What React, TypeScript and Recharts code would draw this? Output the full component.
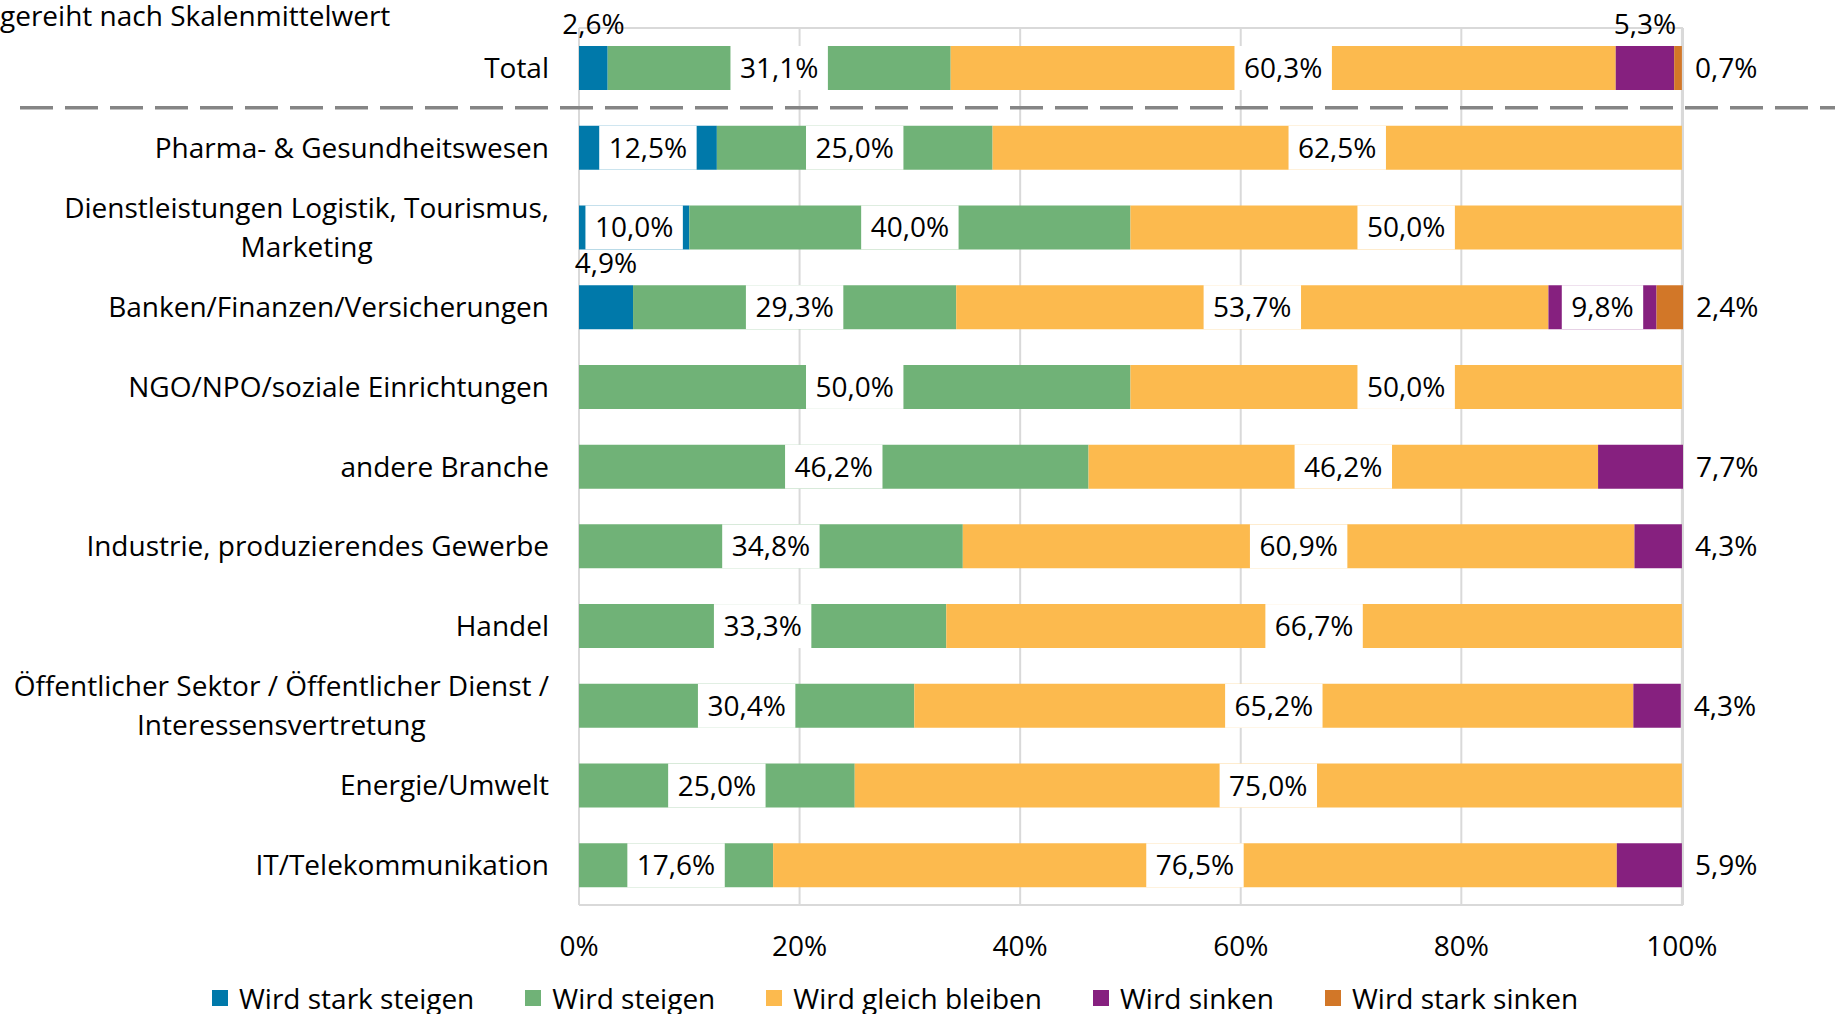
import React from 'react';
import { BarChart, Bar, XAxis, YAxis, CartesianGrid, Legend, LabelList } from 'recharts';

const categories = [
  'Total',
  'Pharma- & Gesundheitswesen',
  'Dienstleistungen Logistik, Tourismus,\nMarketing',
  'Banken/Finanzen/Versicherungen',
  'NGO/NPO/soziale Einrichtungen',
  'andere Branche',
  'Industrie, produzierendes Gewerbe',
  'Handel',
  'Öffentlicher Sektor / Öffentlicher Dienst /\nInteressensvertretung',
  'Energie/Umwelt',
  'IT/Telekommunikation',
];

const starkSteigen = [2.6, 12.5, 10.0, 4.9, 0, 0, 0, 0, 0, 0, 0];
const steigen = [31.1, 25.0, 40.0, 29.3, 50.0, 46.2, 34.8, 33.3, 30.4, 25.0, 17.6];
const gleich = [60.3, 62.5, 50.0, 53.7, 50.0, 46.2, 60.9, 66.7, 65.2, 75.0, 76.5];
const sinken = [5.3, 0, 0, 9.8, 0, 7.7, 4.3, 0, 4.3, 0, 5.9];
const starkSinken = [0.7, 0, 0, 2.4, 0, 0, 0, 0, 0, 0, 0];

const xTicks = [0, 20, 40, 60, 80, 100];

const series = [
  { key: 'starkSteigen', name: 'Wird stark steigen', color: '#0079AA', values: starkSteigen },
  { key: 'steigen', name: 'Wird steigen', color: '#70B277', values: steigen },
  { key: 'gleich', name: 'Wird gleich bleiben', color: '#FCBA4E', values: gleich },
  { key: 'sinken', name: 'Wird sinken', color: '#86207F', values: sinken },
  { key: 'starkSinken', name: 'Wird stark sinken', color: '#D27728', values: starkSinken },
];

const rows = categories.map((name, i) => {
  const row: Record<string, any> = { name };
  series.forEach((s) => (row[s.key] = s.values[i]));
  return row;
});

const W = 1835;
const H = 1014;
const TOP = 28;
const RIGHT = 152;
const AXIS_W = 579;
const XAXIS_H = 60;
const LEGEND_H = 49;
const BAND = (H - TOP - XAXIS_H - LEGEND_H) / categories.length;
const FONT = '"Open Sans", Lato, sans-serif';
const FS = 28;

let ctx: CanvasRenderingContext2D | null = null;
function textWidth(s: string) {
  if (!ctx) {
    ctx = document.createElement('canvas').getContext('2d');
  }
  if (!ctx) return s.length * FS * 0.55;
  ctx.font = `${FS}px "Open Sans"`;
  return ctx.measureText(s).width;
}

const fmt = (v: number) => v.toFixed(1).replace('.', ',') + '%';

function CategoryTick(props: any) {
  const { x, y, payload } = props;
  const lines = String(payload.value).split('\n');
  if (lines.length === 1) {
    return (
      <text x={x} y={y + 10} textAnchor="end" fontFamily={FONT} fontSize={FS} fill="#000">
        {lines[0]}
      </text>
    );
  }
  const wMax = Math.max(...lines.map(textWidth));
  const cx = x - wMax / 2;
  return (
    <text textAnchor="middle" fontFamily={FONT} fontSize={FS} fill="#000">
      <tspan x={cx} y={y - 9.5}>{lines[0]}</tspan>
      <tspan x={cx} y={y + 29.5}>{lines[1]}</tspan>
    </text>
  );
}

function PercentTick(props: any) {
  const { x, y, payload } = props;
  return (
    <text x={x} y={y + 51} textAnchor="middle" fontFamily={FONT} fontSize={FS} fill="#000">
      {payload.value}%
    </text>
  );
}

// small segments get their label outside: to the right if last, else above
function makeLabel(seriesIdx: number) {
  const key = series[seriesIdx].key;
  return (props: any) => {
    const { x, y, width, height, value: name } = props;
    const row = rows.find((r) => r.name === name);
    const value = row ? row[key] : 0;
    if (!value) return null;
    const isLast = series.slice(seriesIdx + 1).every((s) => !row![s.key]);
    const txt = fmt(value);
    const xs = Number(x), ys = Number(y), ws = Number(width), hs = Number(height);
    if (value < 8) {
      if (isLast) {
        return (
          <text x={xs + ws + 13} y={ys + hs / 2 + 10} fontFamily={FONT} fontSize={FS} fill="#000">
            {txt}
          </text>
        );
      }
      return (
        <text x={xs + ws / 2} y={ys - 12} textAnchor="middle" fontFamily={FONT} fontSize={FS} fill="#000">
          {txt}
        </text>
      );
    }
    const tw = textWidth(txt);
    const bw = tw + 19;
    const cx = xs + ws / 2;
    return (
      <g>
        <rect x={cx - bw / 2} y={ys} width={bw} height={hs} fill="#fff" />
        <text x={cx} y={ys + hs / 2 + 10} textAnchor="middle" fontFamily={FONT} fontSize={FS} fill="#000">
          {txt}
        </text>
      </g>
    );
  };
}

function LegendContent() {
  return (
    <div
      style={{
        display: 'flex',
        alignItems: 'center',
        gap: 51,
        paddingLeft: 212,
        paddingTop: 19,
        fontFamily: FONT,
        fontSize: FS,
        lineHeight: '28px',
        color: '#000',
      }}
    >
      {series.map((s) => (
        <div key={s.key} style={{ display: 'flex', alignItems: 'center' }}>
          <span style={{ width: 16, height: 16, background: s.color, marginRight: 11, display: 'inline-block' }} />
          <span>{s.name}</span>
        </div>
      ))}
    </div>
  );
}

export default function App() {
  const sepY = TOP + BAND;
  return (
    <div style={{ position: 'absolute', left: 0, top: 0, width: W, height: H, background: '#fff' }}>
      <BarChart
        width={W}
        height={H}
        data={rows}
        layout="vertical"
        margin={{ top: TOP, right: RIGHT, bottom: 0, left: 0 }}
        barSize={44}
      >
        <CartesianGrid
          stroke="#D9D9D9"
          strokeWidth={2}
          horizontalCoordinatesGenerator={({ offset }: any) => [offset.top, offset.top + offset.height]}
        />
        <XAxis
          type="number"
          domain={[0, 100]}
          ticks={xTicks}
          axisLine={false}
          tickLine={false}
          tickSize={0}
          tickMargin={0}
          height={XAXIS_H}
          tick={<PercentTick />}
          interval={0}
        />
        <YAxis
          type="category"
          dataKey="name"
          width={AXIS_W}
          axisLine={false}
          tickLine={false}
          tickSize={0}
          tickMargin={30}
          tick={<CategoryTick />}
          interval={0}
        />
        {series.map((s, i) => (
          <Bar
            key={s.key}
            dataKey={s.key}
            name={s.name}
            stackId="a"
            fill={s.color}
            isAnimationActive={false}
          >
            <LabelList dataKey={(r: any) => r.name} content={makeLabel(i)} />
          </Bar>
        ))}
        <Legend
          verticalAlign="bottom"
          height={LEGEND_H}
          content={<LegendContent />}
          wrapperStyle={{ left: 0, width: W, height: LEGEND_H }}
        />
      </BarChart>
      <svg
        width={W}
        height={H}
        style={{ position: 'absolute', left: 0, top: 0, pointerEvents: 'none' }}
      >
        <text x={0} y={26} fontFamily={FONT} fontSize={FS} fill="#000">
          gereiht nach Skalenmittelwert
        </text>
        <line x1={20} x2={W} y1={sepY} y2={sepY} stroke="#858585" strokeWidth={3.5} strokeDasharray="33 12" />
      </svg>
    </div>
  );
}
